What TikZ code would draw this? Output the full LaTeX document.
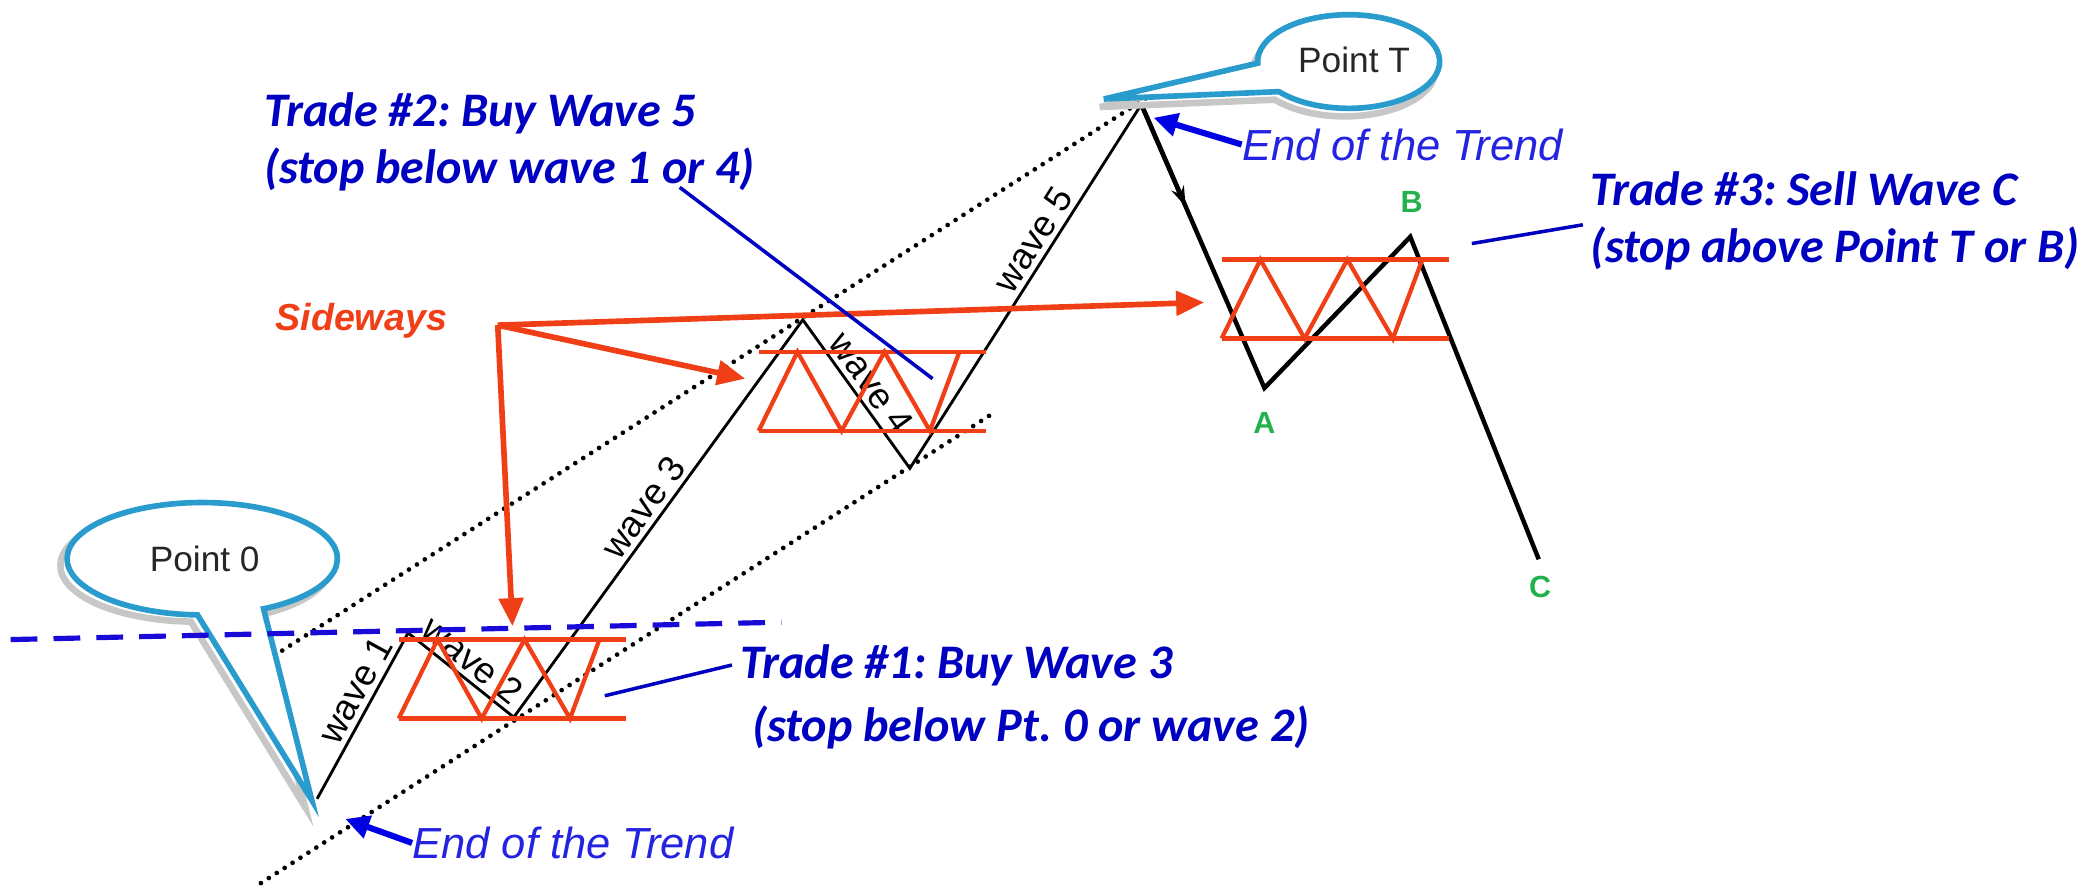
\documentclass[tikz,border=0pt]{standalone}
\usepackage{fontspec}
\setmainfont{Liberation Sans}
\newfontfamily\tradefont{Carlito}
\usetikzlibrary{arrows.meta,positioning,shapes.geometric,calc}
\definecolor{tradeblue}{RGB}{0,0,192}
\definecolor{trendblue}{RGB}{35,35,225}
\definecolor{stopblue}{RGB}{25,10,215}
\definecolor{sidered}{RGB}{240,62,22}
\definecolor{bubbleblue}{RGB}{42,155,205}
\definecolor{abcgreen}{RGB}{34,177,76}
\tikzset{
  tradetxt/.style={align=left, inner sep=0pt, text=tradeblue, font=\tradefont\bfseries\itshape\frenchspacing\fontsize{20.5}{24}\selectfont},
  endtxt/.style={inner sep=0pt, text=trendblue, font=\itshape\fontsize{18.5}{21}\selectfont},
  sidetxt/.style={inner sep=0pt, text=sidered, font=\bfseries\itshape\fontsize{16}{18}\selectfont},
  wavetxt/.style={inner sep=2pt, font=\fontsize{15.5}{17}\selectfont},
  abctxt/.style={inner sep=0pt, text=abcgreen, font=\bfseries\fontsize{13}{15}\selectfont},
  bubbletxt/.style={inner sep=0pt, text=black!85, font=\fontsize{15}{17}\selectfont},
  zig/.style={line width=1.2pt, line join=miter},
  zigbold/.style={line width=1.9pt, line join=miter},
  chan/.style={line width=2pt, line cap=round, dash pattern=on 0pt off 4pt},
  sidebox/.style={draw=sidered, line width=1.8pt, line join=miter},
  sidearrow/.style={draw=sidered, line width=2.4pt, -{Triangle[length=0.42cm, width=0.36cm]}},
  bubble/.style={draw=bubbleblue, line width=2.4pt, fill=white, line join=miter},
  bubbleshadow/.style={draw=black!22, line width=2.8pt, line join=miter},
  trendarrow/.style={draw=blue!90!black, line width=2.6pt, -{Triangle[length=0.36cm, width=0.34cm]}},
  callline/.style={draw=tradeblue, line width=1.5pt},
  stopline/.style={draw=stopblue, line width=2.2pt, dash pattern=on 0.4cm off 0.24cm}
}
\begin{document}
\begin{tikzpicture}[x=0.02cm, y=-0.02cm]
  \useasboundingbox (0,0) rectangle (1568,664);

  % wave points
  \coordinate (P0) at (237,597);
  \coordinate (W1) at (305,473);
  \coordinate (W2) at (384,536);
  \coordinate (W3) at (600,239);
  \coordinate (W4) at (680,350);
  \coordinate (PT) at (853,78);
  \coordinate (A) at (945,290);
  \coordinate (B) at (1054,177);
  \coordinate (C) at (1150,418);

  % trend channel
  \coordinate (upL) at (205,490);
  \coordinate (upR) at (868,66);
  \coordinate (loL) at (195,660);
  \coordinate (loR) at (742,309);
  \draw[chan] (upL) -- (upR);
  \draw[chan] (loL) -- (loR);

  % impulse + correction
  \draw[zig] (P0) -- node[wavetxt, sloped, above, pos=0.6] (lw1) {wave 1} (W1)
    -- node[wavetxt, sloped, above, pos=0.5] (lw2) {wave 2} (W2)
    -- node[wavetxt, sloped, above, pos=0.5] (lw3) {wave 3} (W3)
    -- node[wavetxt, sloped, above, pos=0.5] (lw4) {wave 4} (W4)
    -- node[wavetxt, sloped, above, pos=0.6] (lw5) {wave 5} (PT);
  \draw[zigbold] (PT) -- (A) -- (B) -- (C);
  \draw[zigbold, -{Stealth[length=0.3cm, width=0.2cm]}] (PT) -- ($(PT)!0.36!(A)$);

  \node[abctxt] (lA) at (945,316) {A};
  \node[abctxt] (lB) at (1055,151) {B};
  \node[abctxt] (lC) at (1151,439) {C};

  % sideways ranges
  \foreach \bx/\by in {298/478, 567/263, 913/194} {
    \draw[sidebox] (\bx,\by) -- ++(170,0);
    \draw[sidebox] (\bx,\by+59) -- ++(170,0);
    \draw[sidebox] (\bx,\by+59) -- ++(29,-59) -- ++(33,59) -- ++(32,-59) -- ++(34,59) -- ++(22,-59);
  }

  \node[sidetxt] (side) at (270,240) {Sideways};
  \coordinate (hub) at (372,243);
  \coordinate (toABC) at (900,226);
  \coordinate (toW4) at (557,283);
  \coordinate (toW2) at (383,468);
  \draw[sidearrow] (hub) -- (toABC);
  \draw[sidearrow] (hub) -- (toW4);
  \draw[sidearrow] (hub) -- (toW2);

  % callouts
  \draw[bubbleshadow, shift={(-5,5)}] (197,455) arc[start angle=63, end angle=-268, x radius=101, y radius=42] -- (233,598) -- cycle;
  \draw[bubble] (197,455) arc[start angle=63, end angle=-268, x radius=101, y radius=42] -- (233,598) -- cycle;
  \node[bubbletxt] (pt0) at (153,418) {Point 0};

  \draw[bubbleshadow, shift={(-3,6)}] (940,47.2) arc[start angle=178, end angle=500, x radius=68, y radius=35] -- (825,74) -- cycle;
  \draw[bubble] (940,47.2) arc[start angle=178, end angle=500, x radius=68, y radius=35] -- (825,74) -- cycle;
  \node[bubbletxt] (ptT) at (1012,45) {Point T};

  % end of trend
  \node[endtxt, anchor=west] (endbot) at (308,630) {End of the Trend};
  \node[endtxt, anchor=west] (endtop) at (928,108) {End of the Trend};
  \coordinate (tipbot) at (258,612);
  \coordinate (tiptop) at (862,88);
  \draw[trendarrow] (endbot.west) -- (tipbot);
  \draw[trendarrow] (endtop.west) -- (tiptop);

  % trades
  \node[tradetxt, anchor=west] (trade1) at (553,521) {Trade \#1: Buy Wave 3\\[3pt]\hspace*{5pt}(stop below Pt. 0 or wave 2)};
  \node[tradetxt, anchor=west] (trade2) at (197,106) {Trade \#2: Buy Wave 5\\(stop below wave 1 or 4)};
  \node[tradetxt, anchor=west] (trade3) at (1188,165) {Trade \#3: Sell Wave C\\(stop above Point T or B)};

  \coordinate (t1a) at (452,520);
  \coordinate (t1b) at (547,497);
  \coordinate (t2a) at (697,283);
  \coordinate (t2b) at (508,140);
  \coordinate (t3a) at (1100,182);
  \coordinate (t3b) at (1183,168);
  \draw[callline] (t1a) -- (t1b);
  \draw[callline] (t2a) -- (t2b);
  \draw[callline] (t3a) -- (t3b);

  % stop level
  \coordinate (stopL) at (8,478);
  \coordinate (stopR) at (584,465);
  \draw[stopline] (stopL) -- (stopR);
\end{tikzpicture}
\end{document}
